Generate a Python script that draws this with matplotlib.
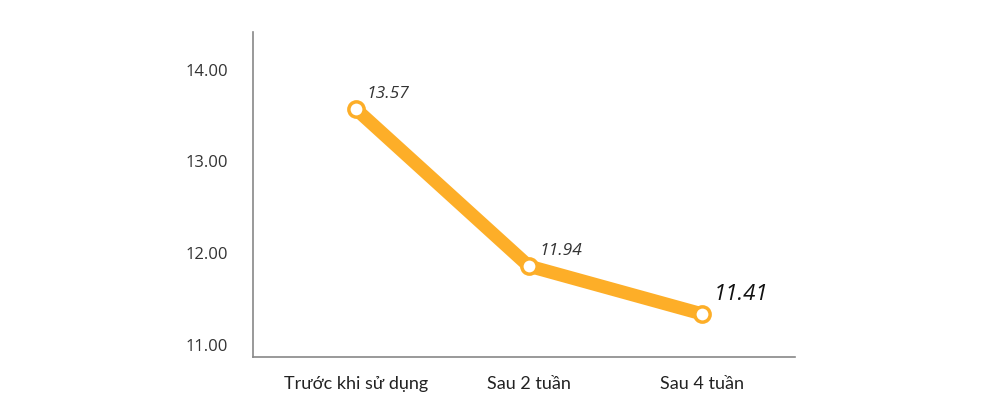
import matplotlib
matplotlib.use("Agg")
import matplotlib.pyplot as plt

categories = ["Trước khi sử dụng", "Sau 2 tuần", "Sau 4 tuần"]
values = [13.57, 11.86, 11.34]
value_labels = ["13.57", "11.94", "11.41"]
yticks = [11.0, 12.0, 13.0, 14.0]

plt.rcParams['font.family'] = ['Open Sans', 'DejaVu Sans']

fig = plt.figure(figsize=(10, 4.2), dpi=100)
ax = fig.add_axes([0.253, 0.15, 0.542, 0.774])

x = list(range(len(categories)))
ax.plot(x, values, color="#FDAE28", linewidth=9.5, solid_capstyle="round",
        marker="o", markersize=11, markerfacecolor="white",
        markeredgecolor="#FDAE28", markeredgewidth=2.5, zorder=3)

for i, (v, t) in enumerate(zip(values, value_labels)):
    if i == len(values) - 1:
        ax.text(i + 0.07, v + 0.1, t, fontsize=16, style="italic",
                color="#111111", ha="left", va="bottom")
    else:
        ax.text(i + 0.06, v + 0.08, t, fontsize=12.5, style="italic",
                color="#333333", ha="left", va="bottom")

ax.set_xlim(-0.595, 2.54)
ax.set_ylim(10.87, 14.41)
ax.set_xticks(x)
ax.set_xticklabels(categories, fontsize=13, color="#222222",
                   family=["Lato", "DejaVu Sans"])
ax.set_yticks(yticks)
ax.set_yticklabels([f"{t:.2f}" for t in yticks], fontsize=12, color="#333333")
ax.tick_params(length=0)
ax.tick_params(axis="x", pad=14)
ax.tick_params(axis="y", pad=18)

for s in ["top", "right"]:
    ax.spines[s].set_visible(False)
for s in ["left", "bottom"]:
    ax.spines[s].set_color("#888888")
    ax.spines[s].set_linewidth(1.2)

fig.savefig("out.png", dpi=100, facecolor="white")
